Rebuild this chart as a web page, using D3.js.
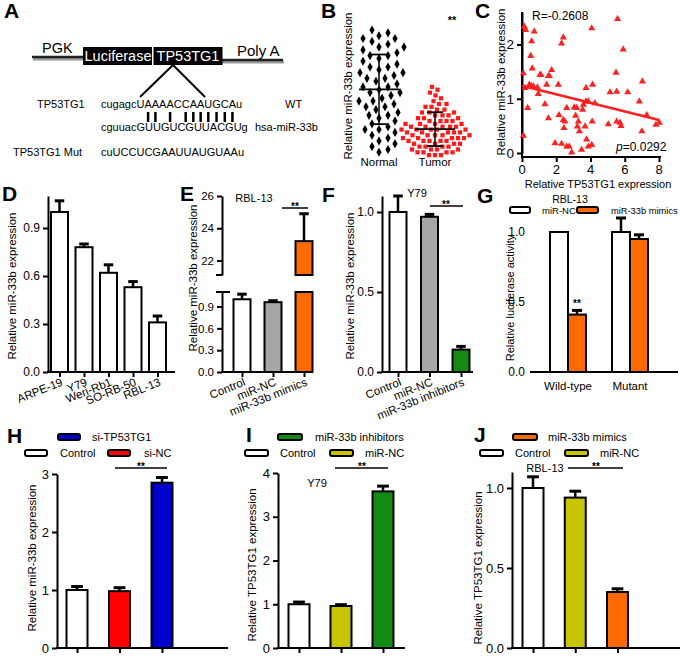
<!DOCTYPE html>
<html><head><meta charset="utf-8">
<script src="https://cdn.jsdelivr.net/npm/d3@7"></script>
<style>body{margin:0;background:#fff} svg{display:block}</style>
</head><body><svg id="c" width="680" height="656"></svg>
<script>
// ---------------- DATA ----------------
// Panel A
const seqWT  = "cugagcUAAAACCAAUGCAu";
const seqMiR = "cguuacGUUGUCGUUACGUg";
const seqMut = "cuUCCUCGAAUUAUGUAAu";
const pairIdx = [7,8,10,12,13,14,15,16,17,18];
// Panel B
const bCats = ["Normal","Tumor"];
const bNormal = [4.5,4.4,4.3,4.2,4.2,4.1,4.0,3.9,3.9,3.8,3.7,3.6,3.6,3.5,3.4,3.3,3.2,3.2,3.1,3.0,3.0,2.9,2.8,2.8,2.7,2.6,2.5,2.5,2.4,2.3,2.3,2.2,2.1,2.0,2.0,1.9,1.8,1.8,1.7,1.6,1.5,1.5,1.4,1.3,1.2,1.1,1.0,1.0,0.9,0.8,0.7,0.6,0.5,0.4,0.3,0.2];
const bTumor = [2.5,2.4,2.3,2.2,2.1,2.0,1.9,1.9,1.8,1.8,1.7,1.7,1.6,1.6,1.6,1.5,1.5,1.5,1.4,1.4,1.4,1.3,1.3,1.3,1.3,1.2,1.2,1.2,1.2,1.1,1.1,1.1,1.1,1.1,1.0,1.0,1.0,1.0,1.0,0.9,0.9,0.9,0.9,0.9,0.8,0.8,0.8,0.8,0.8,0.7,0.7,0.7,0.7,0.7,0.6,0.6,0.6,0.6,0.6,0.5,0.5,0.5,0.5,0.4,0.4,0.4,0.4,0.3,0.3,0.3,0.3,0.2,0.2,0.2,0.2,0.1,0.1,0.1];
// Panel C
const cX = [0.14,0.21,0.08,0.08,0.18,0.33,0.43,0.53,0.56,0.51,0.6,0.66,0.72,0.9,0.95,1.05,1.11,1.34,1.44,1.54,1.6,1.54,1.73,1.93,2.12,2.16,2.31,2.41,2.31,2.41,2.45,2.51,2.61,2.61,2.76,2.9,3.05,3.13,3.19,3.23,3.29,3.35,3.48,3.54,3.58,3.68,3.74,3.77,3.87,3.74,3.87,4.07,4.12,4.1,4.07,4.26,5.04,5.14,5.49,5.58,5.53,5.53,5.72,5.78,5.91,6.17,6.85,7.03,7.0,7.28,7.82,8.02];
const cY = [2.33,2.27,1.47,0.32,1.2,0.83,1.26,1.24,2.06,1.79,1.56,1.23,2.24,1.21,1.09,1.44,1.44,0.9,1.26,1.42,1.42,0.64,1.53,0.18,1.26,0.7,2.02,2.13,0.17,0.61,0.46,0.58,0.83,0.12,0.12,0.01,0.84,0.69,0.83,0.49,0.58,0.4,0.06,0.8,0.89,0.49,1.2,0.25,0.12,0.95,0.95,2.3,1.26,0.58,0.15,0.92,0.53,1.12,1.48,2.47,1.13,0.58,0.56,0.5,1.91,1.12,0.95,1.32,0.4,0.7,0.52,0.56];
const cFitX = [0, 8];
const cFitY = [1.24, 0.61];
const cXTicks = [0,2,4,6,8];
const cYTicks = [0,1,2];
// Panel D
const dCats = ["ARPE-19","Y79","Weri-Rb1","SO-RB-50","RBL-13"];
const dVals = [1.0,0.78,0.62,0.53,0.31];
const dErrs = [1.07,0.80,0.67,0.565,0.35];
const dTicks = [0,0.3,0.6,0.9];
// Panel E
const eCats = ["Control","miR-NC","miR-33b mimics"];
const eVals = [1.0,0.96,23.2];
const eErrs = [1.07,0.98,24.9];
const eTicksLow = [0,0.3,0.6,0.9];
const eTicksHigh = [22,24,26];
// Panel F
const fCats = ["Control","miR-NC","miR-33b inhibitors"];
const fVals = [1.0,0.97,0.14];
const fErrs = [1.1,0.985,0.16];
const fTicks = [0,0.5,1.0];
// Panel G
const gGroups = ["Wild-type","Mutant"];
const gSeries = ["miR-NC","miR-33b mimics"];
const gNC = [1.0,1.0];
const gNCErr = [1.0,1.1];
const gMim = [0.41,0.95];
const gMimErr = [0.44,0.98];
const gTicks = [0,0.5,1.0];
// Panel H
const hCats = ["Control","si-NC","si-TP53TG1"];
const hVals = [1.0,0.98,2.85];
const hErrs = [1.06,1.04,2.94];
const hTicks = [0,1,2,3];
// Panel I
const iCats = ["Control","miR-NC","miR-33b inhibitors"];
const iVals = [1.0,0.96,3.58];
const iErrs = [1.05,0.99,3.7];
const iTicks = [0,1,2,3,4];
// Panel J
const jCats = ["Control","miR-NC","miR-33b mimics"];
const jVals = [1.0,0.94,0.35];
const jErrs = [1.07,0.98,0.37];
const jTicks = [0,0.5,1.0];

// ---------------- STYLE ----------------
const FONT = '"Liberation Sans", Arial, Helvetica, sans-serif';
const WHITE = "#ffffff", GRAY = "#a6a6a6", ORANGE = "#ff6a00", GREEN = "#138a13",
      RED = "#ff0000", BLUE = "#0000cc", YELLOW = "#c9c400";
const svg = d3.select("#c");

function text(x, y, s, o = {}) {
  return svg.append("text").attr("x", x).attr("y", y).text(s)
    .attr("font-size", o.fs || 11).attr("font-weight", o.fw || null)
    .attr("font-style", o.fi || null)
    .attr("text-anchor", o.anchor || "start").attr("fill", o.fill || "#000")
    .attr("font-family", FONT);
}
function vtitle(x, cy, s, fs = 11.5) {
  svg.append("text").attr("transform", `translate(${x},${cy}) rotate(-90)`)
    .attr("text-anchor", "middle").attr("dominant-baseline", "central")
    .attr("font-size", fs).attr("font-family", FONT).attr("fill", "#000").text(s);
}
function panelLabel(x, y, s) { text(x, y, s, {fs: 21, fw: "bold"}); }
function line(x1, y1, x2, y2, w = 2, c = "#000") {
  return svg.append("line").attr("x1", x1).attr("y1", y1).attr("x2", x2).attr("y2", y2)
    .attr("stroke", c).attr("stroke-width", w);
}
function yAxis(y, x, ticks, fmt, fs, domain = true) {
  const g = svg.append("g").attr("transform", `translate(${x},0)`)
    .call(d3.axisLeft(y).tickValues(ticks).tickFormat(fmt).tickSize(5).tickSizeOuter(0).tickPadding(3));
  g.attr("font-family", FONT).attr("font-size", fs);
  g.select(".domain").attr("stroke-width", 2).attr("stroke", "#000");
  if (!domain) { g.select(".domain").remove(); g.selectAll(".tick line").remove(); }
  g.selectAll(".tick line").attr("stroke-width", 2);
  g.selectAll(".tick text").attr("fill", "#000");
  return g;
}
function xAxis(x, y0, x0, x1, cats) {
  line(x0, y0, x1, y0, 2);
  const g = svg.append("g").attr("transform", `translate(0,${y0})`)
    .call(d3.axisBottom(x).tickValues(cats).tickSize(5).tickFormat(""));
  g.select(".domain").remove();
  g.selectAll(".tick line").attr("stroke-width", 2);
}
function rotLabels(x, y0, cats, fs = 11.5, ang = -22) {
  cats.forEach(c => {
    svg.append("text").attr("transform", `translate(${x(c) + 4},${y0 + 13}) rotate(${ang})`)
      .attr("text-anchor", "end").attr("font-size", fs).attr("font-family", FONT).text(c);
  });
}
function bar(cx, w, yTop, yBot, fill, yErr) {
  if (yErr !== null && yErr !== undefined && yErr < yTop - 0.5) {
    line(cx, yTop, cx, yErr, 2.5);
    line(cx - w * 0.28, yErr, cx + w * 0.28, yErr, 3);
  }
  svg.append("rect").attr("x", cx - w / 2).attr("y", yTop).attr("width", w)
    .attr("height", yBot - yTop).attr("fill", fill).attr("stroke", "#000").attr("stroke-width", 2);
}
function sig(x1, x2, y, tx) {
  line(x1, y, x2, y, 1.5);
  text(tx === undefined ? (x1 + x2) / 2 : tx, y + 2, "**", {fs: 10, fw: "bold", anchor: "middle"});
}
function swatch(x, y, w, fill) {
  svg.append("rect").attr("x", x).attr("y", y).attr("width", w).attr("height", 6).attr("rx", 2)
    .attr("fill", fill).attr("stroke", "#000").attr("stroke-width", 2);
}

// ---------------- PANEL A ----------------
panelLabel(4, 18, "A");
line(33, 59, 84, 59, 3, "#999"); line(222, 62, 284, 62, 3, "#999");
line(32, 57, 84, 57, 2.5, "#222"); line(222, 60, 283, 60, 2.5, "#222");
svg.append("rect").attr("x", 83).attr("y", 47).attr("width", 69).attr("height", 18).attr("fill", "#000");
svg.append("rect").attr("x", 153.5).attr("y", 47).attr("width", 69).attr("height", 18).attr("fill", "#000");
text(118, 61, "Luciferase", {fs: 14.5, fill: "#fff", anchor: "middle"});
text(188, 61, "TP53TG1", {fs: 14.5, fill: "#fff", anchor: "middle"});
text(42, 53, "PGK", {fs: 14.5});
text(237, 56, "Poly A", {fs: 15});
line(173, 65, 140, 97, 2); line(173, 65, 205, 97, 2);
text(37, 108, "TP53TG1", {fs: 11});
const wt = text(101, 108, seqWT, {fs: 11});
text(285, 108, "WT", {fs: 11});
text(101, 131, seqMiR, {fs: 11});
text(255, 131, "hsa-miR-33b", {fs: 11});
text(13, 156, "TP53TG1 Mut", {fs: 11});
text(101, 156, seqMut, {fs: 11});
const wtNode = wt.node();
pairIdx.forEach(i => {
  const st = wtNode.getStartPositionOfChar(i).x;
  const en = wtNode.getEndPositionOfChar(i).x;
  line((st + en) / 2, 112, (st + en) / 2, 122, 2.5);
});

// ---------------- PANEL B ----------------
panelLabel(321, 18, "B");
vtitle(348, 86, "Relative miR-33b expression");
const bx = d3.scalePoint().domain(bCats).range([379, 435]);
const by = d3.scaleLinear().domain([0, 4.5]).range([158, 30]);
function swarm(vals, cx, r) {
  const placed = [];
  return vals.slice().sort((a, b) => a - b).map(v => {
    const py = by(v);
    let px = cx;
    for (let k = 0; k < 400; k++) {
      const off = (k % 2 ? 1 : -1) * Math.ceil(k / 2) * 0.5;
      const cand = cx + off;
      if (!placed.some(p => Math.hypot(p[0] - cand, p[1] - py) < r)) { px = cand; break; }
    }
    placed.push([px, py]);
    return [px, py];
  });
}
swarm(bNormal, bx("Normal"), 9).forEach(p => {
  svg.append("path").attr("d", d3.symbol(d3.symbolDiamond, 24)()).attr("transform", `translate(${p[0]},${p[1]})`).attr("fill", "#000");
});
swarm(bTumor, bx("Tumor"), 6).forEach(p => {
  svg.append("path").attr("d", d3.symbol(d3.symbolSquare, 18)()).attr("transform", `translate(${p[0]},${p[1]})`).attr("fill", "#ff1a1a");
});
[[bNormal, "Normal"], [bTumor, "Tumor"]].forEach(([vals, c]) => {
  const m = d3.mean(vals), sd = d3.deviation(vals), cx = bx(c);
  line(cx - 20, by(m), cx + 20, by(m), 1.8);
  line(cx, by(m + sd), cx, by(Math.max(m - sd, 0)), 1.5);
  line(cx - 8, by(m + sd), cx + 8, by(m + sd), 1.8);
  line(cx - 8, by(Math.max(m - sd, 0)), cx + 8, by(Math.max(m - sd, 0)), 1.8);
  text(cx, 166, c, {fs: 11.5, anchor: "middle"});
});
text(452, 24, "**", {fs: 11, fw: "bold", anchor: "middle"});

// ---------------- PANEL C ----------------
panelLabel(475, 18, "C");
const cx = d3.scaleLinear().domain([0, 8]).range([522, 659]);
const cy = d3.scaleLinear().domain([0, 2.6]).range([153, 12]);
yAxis(cy, 522, cYTicks, d3.format("d"), 13.5);
line(522, 12, 522, 158, 2);
xAxis(d3.scalePoint().domain(cXTicks).range([cx(0), cx(8)]), 157, 521, 661, cXTicks);
cXTicks.forEach(t => text(cx(t), 174, t, {fs: 13, anchor: "middle"}));
cX.forEach((v, i) => {
  svg.append("path").attr("d", d3.symbol(d3.symbolTriangle, 22)())
    .attr("transform", `translate(${cx(v)},${cy(cY[i])})`).attr("fill", "#ff2020");
});
line(cx(cFitX[0]), cy(cFitY[0]), cx(cFitX[1]), cy(cFitY[1]), 2.5, "#ff2020");
text(532, 20, "R=-0.2608", {fs: 12});
const pt = text(616, 151, "", {fs: 12});
pt.append("tspan").attr("font-style", "italic").text("p");
pt.append("tspan").text("=0.0292");
vtitle(501, 82, "Relative miR-33b  expression");
text(598, 188, "Relative TP53TG1 expression", {fs: 11, anchor: "middle"});

// ---------------- PANEL D ----------------
panelLabel(2, 201, "D");
vtitle(12, 286, "Relative miR-33b expression");
const dx = d3.scalePoint().domain(dCats).range([59.5, 157.5]);
const dy = d3.scaleLinear().domain([0, 1.1]).range([372, 196]);
yAxis(dy, 48, dTicks, d3.format(".1f"), 12);
xAxis(dx, 372, 47, 175, dCats);
dCats.forEach((c, i) => bar(dx(c), 17, dy(dVals[i]), dy(0), WHITE, dy(dErrs[i])));
rotLabels(dx, 372, dCats);

// ---------------- PANEL E ----------------
panelLabel(180, 201, "E");
vtitle(193, 278, "Relative miR-33b expression");
const ex = d3.scalePoint().domain(eCats).range([242, 304]);
const eyL = d3.scaleLinear().domain([0, 1.1]).range([372, 292]);
const eyH = d3.scaleLinear().domain([21.1, 26]).range([275, 196]);
const eColors = [WHITE, GRAY, ORANGE];
yAxis(eyL, 222, eTicksLow, d3.format(".1f"), 11.5);
yAxis(eyH, 222, eTicksHigh, d3.format("d"), 11.5);
line(216, 292, 230, 292, 2); line(216, 275, 222, 275, 2);
xAxis(ex, 372, 221, 313, eCats);
eCats.forEach((c, i) => {
  if (eVals[i] <= 1.1) {
    bar(ex(c), 17, eyL(eVals[i]), eyL(0), eColors[i], eyL(eErrs[i]));
  } else {
    bar(ex(c), 17, eyL(1.1), eyL(0), eColors[i], null);
    bar(ex(c), 17, eyH(eVals[i]), eyH(21.1), eColors[i], eyH(eErrs[i]));
  }
});
rotLabels(ex, 372, eCats);
text(254, 202, "RBL-13", {fs: 11, anchor: "middle"});
sig(282, 308, 208);

// ---------------- PANEL F ----------------
panelLabel(322, 202, "F");
vtitle(350, 286, "Relative miR-33b expression");
const fx = d3.scalePoint().domain(fCats).range([398, 461]);
const fy = d3.scaleLinear().domain([0, 1.1]).range([372, 196]);
const fColors = [WHITE, GRAY, GREEN];
yAxis(fy, 382, fTicks, d3.format(".1f"), 12);
xAxis(fx, 372, 381, 473, fCats);
fCats.forEach((c, i) => bar(fx(c), 17, fy(fVals[i]), fy(0), fColors[i], fy(fErrs[i])));
rotLabels(fx, 372, fCats);
text(417, 197, "Y79", {fs: 11, anchor: "middle"});
sig(430, 463, 206, 446);

// ---------------- PANEL G ----------------
panelLabel(477, 203, "G");
vtitle(510, 298, "Relative luciferase activity", 11);
const gx = d3.scalePoint().domain(gGroups).range([568, 630]);
const gs = d3.scaleBand().domain(gSeries).range([-18, 18]);
const gy = d3.scaleLinear().domain([0, 1.1]).range([372, 218]);
yAxis(gy, 533, gTicks, d3.format(".1f"), 12, false);
line(530, 372, 678, 372, 2);
gGroups.forEach((g, i) => {
  bar(gx(g) + gs("miR-NC") + gs.bandwidth() / 2, 18, gy(gNC[i]), gy(0), WHITE, gy(gNCErr[i]));
  bar(gx(g) + gs("miR-33b mimics") + gs.bandwidth() / 2, 18, gy(gMim[i]), gy(0), ORANGE, gy(gMimErr[i]));
  text(gx(g), 390, g, {fs: 11.5, anchor: "middle"});
});
text(gx("Wild-type") + gs("miR-33b mimics") + gs.bandwidth() / 2, gy(gMimErr[0]) - 3, "**", {fs: 10, fw: "bold", anchor: "middle"});
text(570, 203, "RBL-13", {fs: 10.5, anchor: "middle"});
swatch(510, 207, 20, WHITE);
text(542, 214, "miR-NC", {fs: 9.5});
swatch(577, 207, 21, ORANGE);
text(611, 214, "miR-33b mimics", {fs: 9.3});

// ---------------- PANEL H ----------------
panelLabel(7, 443, "H");
vtitle(32, 558, "Relative miR-33b expression");
const hx = d3.scalePoint().domain(hCats).range([77, 162]);
const hy = d3.scaleLinear().domain([0, 3]).range([648, 474]);
const hColors = [WHITE, RED, BLUE];
yAxis(hy, 57, hTicks, d3.format("d"), 13);
xAxis(hx, 648, 56, 228, hCats);
hCats.forEach((c, i) => bar(hx(c), 21, hy(hVals[i]), hy(0), hColors[i], hy(hErrs[i])));
swatch(58, 434, 22, BLUE); text(92, 441, "si-TP53TG1", {fs: 11});
swatch(25, 450, 22, WHITE); text(60, 457, "Control", {fs: 11});
swatch(108, 450, 22, RED); text(144, 457, "si-NC", {fs: 11});
sig(115, 167, 468, 141);

// ---------------- PANEL I ----------------
panelLabel(246, 442, "I");
vtitle(252, 565, "Relative TP53TG1 expression");
const ix = d3.scalePoint().domain(iCats).range([299, 383]);
const iy = d3.scaleLinear().domain([0, 4]).range([648, 473]);
const iColors = [WHITE, YELLOW, GREEN];
yAxis(iy, 278, iTicks, d3.format("d"), 13);
xAxis(ix, 648, 277, 405, iCats);
iCats.forEach((c, i) => bar(ix(c), 21, iy(iVals[i]), iy(0), iColors[i], iy(iErrs[i])));
swatch(278, 434, 24, GREEN); text(315, 441, "miR-33b inhibitors", {fs: 11});
swatch(245, 450, 23, WHITE); text(280, 457, "Control", {fs: 11});
swatch(330, 450, 23, YELLOW); text(365, 457, "miR-NC", {fs: 11});
text(317, 487, "Y79", {fs: 11, anchor: "middle"});
sig(335, 388, 468, 362);

// ---------------- PANEL J ----------------
panelLabel(474, 442, "J");
vtitle(478, 568, "Relative TP53TG1 expression");
const jx = d3.scalePoint().domain(jCats).range([533, 617.5]);
const jy = d3.scaleLinear().domain([0, 1.1]).range([648, 472]);
const jColors = [WHITE, YELLOW, ORANGE];
yAxis(jy, 512, jTicks, d3.format(".1f"), 13);
xAxis(jx, 648, 511, 680, jCats);
jCats.forEach((c, i) => bar(jx(c), 21, jy(jVals[i]), jy(0), jColors[i], jy(jErrs[i])));
swatch(513, 434, 24, ORANGE); text(548, 441, "miR-33b mimics", {fs: 11});
swatch(480, 450, 23, WHITE); text(515, 457, "Control", {fs: 11});
swatch(565, 450, 23, YELLOW); text(600, 457, "miR-NC", {fs: 11});
text(545, 472, "RBL-13", {fs: 11, anchor: "middle"});
sig(568, 623, 468, 596);
</script></body></html>
